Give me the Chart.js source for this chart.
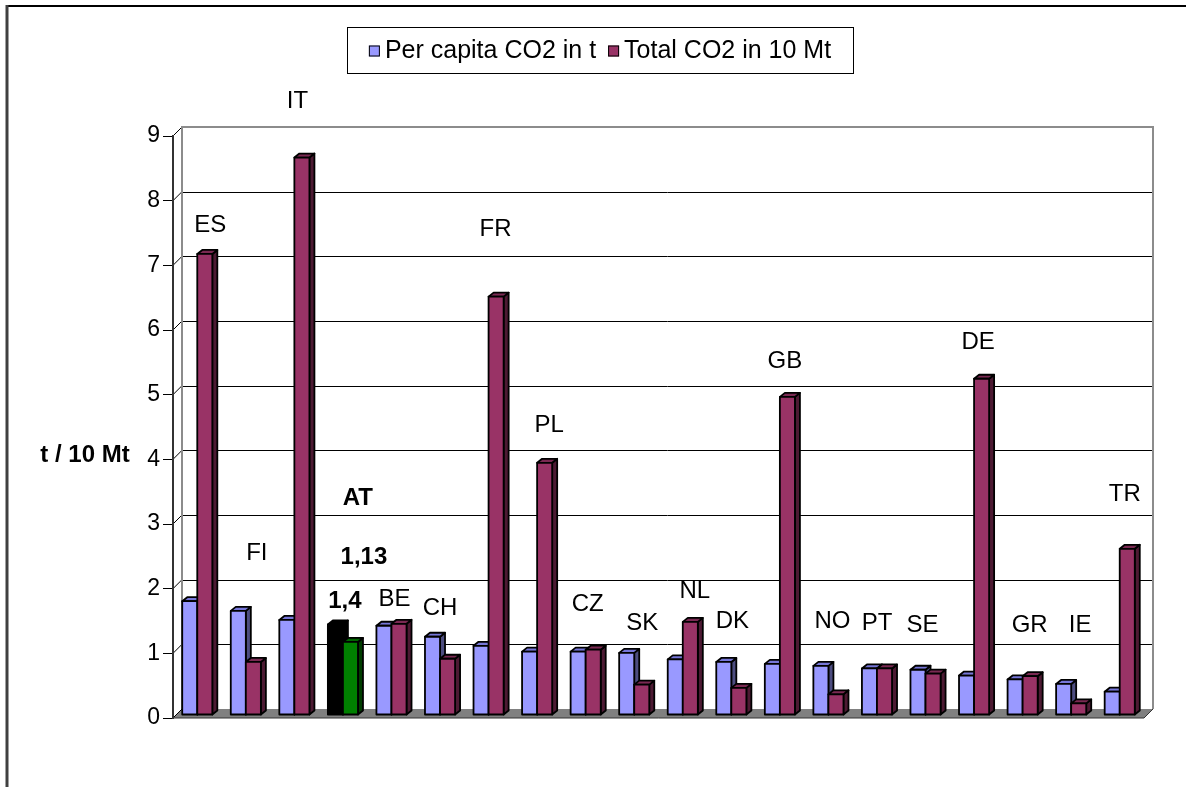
<!DOCTYPE html>
<html>
<head>
<meta charset="utf-8">
<script src="https://cdn.jsdelivr.net/npm/chart.js@4.4.1/dist/chart.umd.min.js"></script>
<style>
  html, body { margin: 0; padding: 0; background: #fff; }
  canvas { display: block; }
</style>
</head>
<body>
<canvas id="co2" width="1196" height="787"></canvas>
<script>
const countries = ['ES', 'FI', 'IT', 'AT', 'BE', 'CH', 'FR', 'PL', 'CZ', 'SK',
                   'NL', 'DK', 'GB', 'NO', 'PT', 'SE', 'DE', 'GR', 'IE', 'TR'];
const perCapita = [1.76, 1.61, 1.47, 1.40, 1.38, 1.21, 1.07, 0.98, 0.98, 0.96,
                   0.86, 0.82, 0.79, 0.76, 0.72, 0.70, 0.61, 0.55, 0.48, 0.36];
const totalCo2 = [7.13, 0.82, 8.62, 1.13, 1.41, 0.87, 6.47, 3.90, 1.01, 0.47,
                  1.44, 0.42, 4.92, 0.32, 0.72, 0.64, 5.20, 0.60, 0.18, 2.57];
// where the country names sit (axis units) and how far right of the category centre (px)
const labelLevels = [7.62, 2.55, 9.54, 3.40, 1.84, 1.69, 7.56, 4.53, 1.75, 1.47,
                     1.96, 1.50, 5.52, 1.50, 1.47, 1.44, 5.81, 1.44, 1.44, 3.46];
const labelShift = [13, 11, 3, 15, 3, 0, 7, 12, 2, 8, 12, 1, 5, 4, 0, -3, 4, 7, 9, 5];
const highlight = 'AT';

const BLUE = '#9999FF', RED = '#993366';
const AT_BLUE = '#000000', AT_RED = '#008000';
const shades = {
  '#9999FF': ['#7676d8', '#4d4d80'],
  '#993366': ['#7a2952', '#4d1a33'],
  '#000000': ['#000000', '#000000'],
  '#008000': ['#006600', '#003d00']
};
const FONT = '"Liberation Sans", Arial, sans-serif';
const WALL_DX = 9, WALL_DY = 9;
const BAR_DX = 5, BAR_DY = 4;

const hl = countries.indexOf(highlight);
const blueColors = countries.map((c, i) => i === hl ? AT_BLUE : BLUE);
const redColors = countries.map((c, i) => i === hl ? AT_RED : RED);

function line(ctx, x1, y1, x2, y2) {
  ctx.beginPath();
  ctx.moveTo(x1, y1);
  ctx.lineTo(x2, y2);
  ctx.stroke();
}

const wallPlugin = {
  id: 'wall',
  beforeDraw(chart) {
    const { ctx, chartArea: a, scales: { y } } = chart;
    ctx.save();
    ctx.fillStyle = '#fff';
    ctx.fillRect(0, 0, chart.width, chart.height);

    // outer frame
    ctx.strokeStyle = '#000';
    ctx.lineWidth = 2;
    line(ctx, 7, 6, 1186, 6);
    ctx.strokeStyle = '#404040';
    ctx.lineWidth = 3;
    line(ctx, 7, 5, 7, chart.height);

    // floor
    ctx.fillStyle = '#808080';
    ctx.beginPath();
    ctx.moveTo(a.left, a.bottom);
    ctx.lineTo(a.right, a.bottom);
    ctx.lineTo(a.right + WALL_DX, a.bottom - WALL_DY);
    ctx.lineTo(a.left + WALL_DX, a.bottom - WALL_DY);
    ctx.closePath();
    ctx.fill();

    // back wall grid lines and the little diagonals from the axis
    ctx.strokeStyle = '#000';
    ctx.lineWidth = 1;
    for (let v = 1; v <= 8; v++) {
      const py = Math.round(y.getPixelForValue(v) - WALL_DY) + 0.5;
      line(ctx, a.left + WALL_DX, py, a.right + WALL_DX, py);
    }
    for (let v = 0; v <= 9; v++) {
      const py = y.getPixelForValue(v);
      line(ctx, a.left, py, a.left + WALL_DX, py - WALL_DY);
    }

    // wall edges
    ctx.strokeStyle = '#8c8c8c';
    ctx.lineWidth = 2;
    ctx.beginPath();
    ctx.moveTo(a.left + WALL_DX, a.bottom - WALL_DY);
    ctx.lineTo(a.left + WALL_DX, a.top - WALL_DY);
    ctx.lineTo(a.right + WALL_DX, a.top - WALL_DY);
    ctx.lineTo(a.right + WALL_DX, a.bottom - WALL_DY);
    ctx.stroke();

    ctx.strokeStyle = '#333';
    ctx.lineWidth = 1;
    line(ctx, a.left, a.bottom, a.right, a.bottom);
    line(ctx, a.right, a.bottom, a.right + WALL_DX, a.bottom - WALL_DY);
    ctx.restore();
  }
};

function drawBox(ctx, left, right, top, base, color) {
  const [topColor, sideColor] = shades[color];
  ctx.strokeStyle = '#000';
  ctx.lineWidth = 1.8;
  ctx.lineJoin = 'round';
  // side
  ctx.fillStyle = sideColor;
  ctx.beginPath();
  ctx.moveTo(right, top);
  ctx.lineTo(right + BAR_DX, top - BAR_DY);
  ctx.lineTo(right + BAR_DX, base - BAR_DY);
  ctx.lineTo(right, base);
  ctx.closePath();
  ctx.fill();
  ctx.stroke();
  // top
  ctx.fillStyle = topColor;
  ctx.beginPath();
  ctx.moveTo(left, top);
  ctx.lineTo(left + BAR_DX, top - BAR_DY);
  ctx.lineTo(right + BAR_DX, top - BAR_DY);
  ctx.lineTo(right, top);
  ctx.closePath();
  ctx.fill();
  ctx.stroke();
  // front
  ctx.fillStyle = color;
  ctx.fillRect(left, top, right - left, base - top);
  ctx.strokeRect(left, top, right - left, base - top);
}

const barsPlugin = {
  id: 'bars3d',
  beforeDatasetsDraw(chart) {
    const { ctx } = chart;
    ctx.save();
    ctx.translate(0, -3);
    countries.forEach((c, i) => {
      chart.data.datasets.forEach((ds, d) => {
        const bar = chart.getDatasetMeta(d).data[i];
        const { x, y, base, width } = bar.getProps(['x', 'y', 'base', 'width'], true);
        drawBox(ctx, x - width / 2, x + width / 2, y, base, ds.backgroundColor[i]);
      });
    });
    ctx.restore();
    return false;
  }
};

const textPlugin = {
  id: 'texts',
  afterDraw(chart) {
    const { ctx, scales: { x, y } } = chart;
    ctx.save();
    ctx.fillStyle = '#000';
    ctx.textAlign = 'center';
    ctx.textBaseline = 'middle';

    countries.forEach((c, i) => {
      const px = x.getPixelForValue(i) + labelShift[i];
      const py = y.getPixelForValue(labelLevels[i]);
      ctx.font = (i === hl ? 'bold ' : '') + '24px ' + FONT;
      ctx.fillText(c, px, py);
    });

    // values of the highlighted country
    const hx = x.getPixelForValue(hl);
    ctx.font = 'bold 24px ' + FONT;
    ctx.fillText(String(perCapita[hl]).replace('.', ','), hx + 2, y.getPixelForValue(1.81));
    ctx.fillText(String(totalCo2[hl]).replace('.', ','), hx + 21, y.getPixelForValue(2.49));

    // axis title
    ctx.font = 'bold 24px ' + FONT;
    ctx.fillText('t / 10 Mt', 85, 455);

    // legend
    const ds = chart.data.datasets;
    ctx.font = '25px ' + FONT;
    const sq = 11, gap = 5, between = 12;
    const w = ds.map(d => ctx.measureText(d.label).width);
    const total = sq + gap + w[0] + between + sq + gap + w[1];
    const cx = 600, cy = 50;
    ctx.strokeStyle = '#000';
    ctx.lineWidth = 1;
    ctx.strokeRect(347.5, 27.5, 506, 46);
    let lx = cx - total / 2;
    ctx.textAlign = 'left';
    ds.forEach((d, k) => {
      ctx.fillStyle = k === 0 ? BLUE : RED;
      ctx.fillRect(lx, cy - sq / 2 + 1, sq, sq);
      ctx.strokeRect(lx + 0.5, cy - sq / 2 + 1.5, sq - 1, sq - 1);
      lx += sq + gap;
      ctx.fillStyle = '#000';
      ctx.fillText(d.label, lx, cy + 1);
      lx += w[k] + between;
    });
    ctx.restore();
  }
};

new Chart(document.getElementById('co2'), {
  type: 'bar',
  data: {
    labels: countries,
    datasets: [
      { label: 'Per capita CO2 in t', data: perCapita, backgroundColor: blueColors },
      { label: 'Total CO2 in 10 Mt', data: totalCo2, backgroundColor: redColors }
    ]
  },
  options: {
    responsive: false,
    animation: false,
    devicePixelRatio: 1,
    categoryPercentage: 0.62,
    barPercentage: 1,
    layout: { padding: { left: 0, top: 136, right: 52, bottom: 69 } },
    plugins: {
      legend: { display: false },
      tooltip: { enabled: false }
    },
    scales: {
      x: { display: false },
      y: {
        min: 0,
        max: 9,
        afterFit: (scale) => { scale.width = 173; },
        ticks: {
          stepSize: 1,
          padding: 3,
          color: '#000',
          font: { family: FONT, size: 23 }
        },
        grid: { drawOnChartArea: false, tickLength: 10, color: '#000' },
        border: { color: '#333', width: 2 }
      }
    }
  },
  plugins: [wallPlugin, barsPlugin, textPlugin]
});
</script>
</body>
</html>
